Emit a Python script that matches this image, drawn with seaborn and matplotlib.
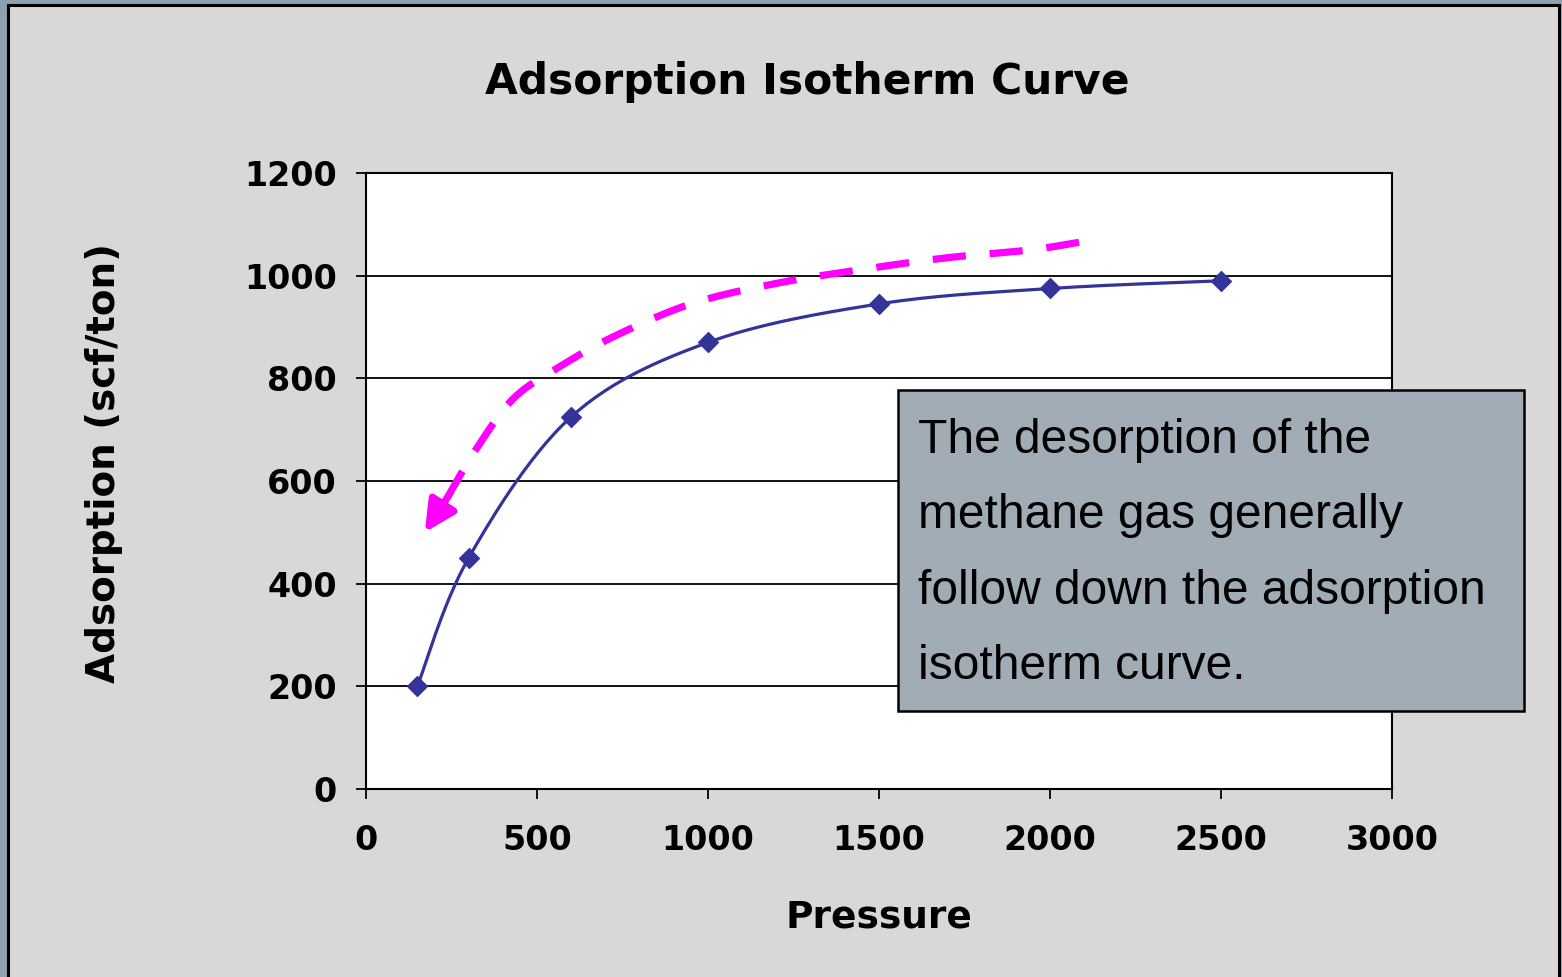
import matplotlib
matplotlib.use("Agg")
import matplotlib.pyplot as plt
from matplotlib.patches import Rectangle
import numpy as np
import pandas as pd
import seaborn as sns

# data
pressure = [150, 300, 600, 1000, 1500, 2000, 2500]
adsorption = [200, 450, 725, 870, 945, 975, 990]

# path of the magenta "desorption" arrow (annotation, data coords)
arrow_x = [2085, 1940, 1700, 1450, 1200, 950, 720, 560, 430, 320, 240, 172]
arrow_y = [1065, 1050, 1035, 1012, 985, 945, 880, 820, 760, 660, 570, 500]

title = "Adsorption Isotherm Curve"
note = "The desorption of the\nmethane gas generally\nfollow down the adsorption\nisotherm curve."


def smooth_path(x, y, n=30):
    """Excel-style smoothed line (Catmull-Rom / Bezier through the points)."""
    x = np.asarray(x, float)
    y = np.asarray(y, float)
    px = np.r_[x[0], x, x[-1]]
    py = np.r_[y[0], y, y[-1]]
    xs, ys = [], []
    for i in range(1, len(x)):
        p0, p1, p2, p3 = px[i - 1], px[i], px[i + 1], px[i + 2]
        q0, q1, q2, q3 = py[i - 1], py[i], py[i + 1], py[i + 2]
        c1x, c1y = p1 + (p2 - p0) / 6, q1 + (q2 - q0) / 6
        c2x, c2y = p2 - (p3 - p1) / 6, q2 - (q3 - q1) / 6
        t = np.linspace(0, 1, n)
        b0, b1, b2, b3 = (1 - t) ** 3, 3 * t * (1 - t) ** 2, 3 * t ** 2 * (1 - t), t ** 3
        xs.append(b0 * p1 + b1 * c1x + b2 * c2x + b3 * p2)
        ys.append(b0 * q1 + b1 * c1y + b2 * c2y + b3 * q2)
    return np.concatenate(xs), np.concatenate(ys)


sns.set_style("white")
plt.rcParams["font.family"] = ["DejaVu Sans"]
plt.rcParams["text.color"] = "black"
plt.rcParams["xtick.color"] = "black"
plt.rcParams["ytick.color"] = "black"
plt.rcParams["axes.labelcolor"] = "black"

W, H = 1562, 977
fig = plt.figure(figsize=(W / 100, H / 100), dpi=100)
fig.patch.set_facecolor("#8fa0b0")
fig.patches.append(Rectangle((8 / W, -0.01), 1551 / W, 1 - 5 / H + 0.01,
                             transform=fig.transFigure, facecolor="#d9d8d7",
                             edgecolor="black", linewidth=2.2, zorder=-10))

ax = fig.add_axes([366 / W, 1 - 789 / H, 1026 / W, 616 / H])
ax.set_facecolor("white")

df = pd.DataFrame({"Pressure": pressure, "Adsorption": adsorption})
sx, sy = smooth_path(pressure, adsorption)
sns.lineplot(x=sx, y=sy, sort=False, color="#333399", linewidth=2.3, ax=ax, zorder=3)
sns.scatterplot(data=df, x="Pressure", y="Adsorption", marker="D", s=105,
                color="#333399", edgecolor="#333399", ax=ax, zorder=4)

# magenta dashed arrow
axx, ayy = smooth_path(arrow_x[:-1], arrow_y[:-1])
ax.plot(axx, ayy, color="#ff00ff", linewidth=5.2,
        linestyle=(0, (4.6, 3.3)), solid_capstyle="butt", zorder=5)
ax.annotate("", xy=(arrow_x[-1], arrow_y[-1]), xytext=(arrow_x[-2], arrow_y[-2]),
            arrowprops=dict(arrowstyle="-|>", color="#ff00ff", lw=5.2,
                            mutation_scale=46, shrinkA=0, shrinkB=0), zorder=5)

ax.set_xlim(0, 3000)
ax.set_ylim(0, 1200)
ax.set_xticks(range(0, 3001, 500))
ax.set_yticks(range(0, 1201, 200))
ax.yaxis.grid(True, color="black", linewidth=1.3)
ax.xaxis.grid(False)
for s in ax.spines.values():
    s.set_color("black")
    s.set_linewidth(1.5)
ax.tick_params(axis="both", direction="out", length=7, width=1.3, color="black",
               labelsize=24)
ax.tick_params(axis="x", pad=18, bottom=True)
ax.tick_params(axis="y", pad=14, left=True)
for lab in ax.get_xticklabels() + ax.get_yticklabels():
    lab.set_fontweight("bold")

ax.set_xlabel("Pressure", fontsize=27, fontweight="bold")
ax.set_ylabel("Adsorption (scf/ton)", fontsize=28, fontweight="bold")
ax.xaxis.set_label_coords(0.5, -0.18)
ax.yaxis.set_label_coords(-0.237, 0.529)

fig.text(807 / W, 1 - 82 / H, title, fontsize=30.5, fontweight="bold",
         ha="center", va="center")

# note box
fig.patches.append(Rectangle((898 / W, 1 - 711 / H), 626 / W, 321 / H,
                             transform=fig.transFigure, facecolor="#a1acb6",
                             edgecolor="black", linewidth=1.8, zorder=10))
fig.text(918 / W, 1 - 418 / H, note, family=["Liberation Sans"], fontsize=34.5,
         ha="left", va="top", linespacing=1.87, zorder=11)

fig.savefig("out.png", dpi=100, facecolor=fig.get_facecolor())
